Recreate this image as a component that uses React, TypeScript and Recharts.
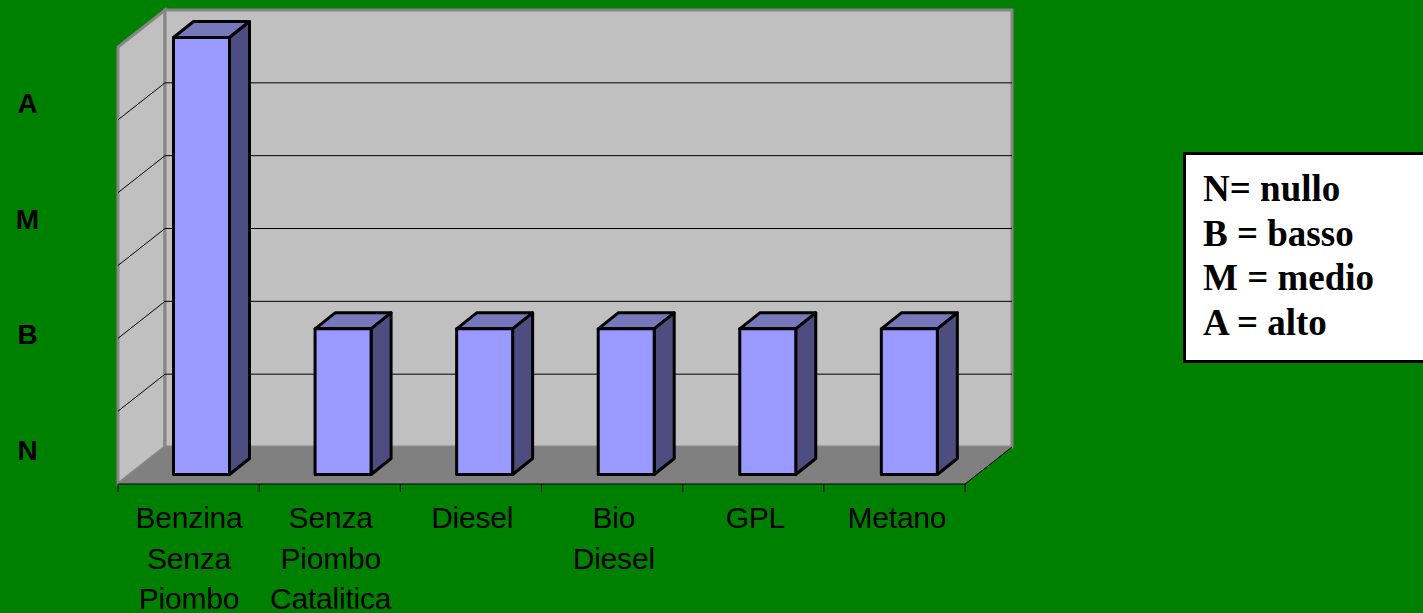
import { BarChart, Bar, XAxis, YAxis, CartesianGrid } from "recharts";

const categories = ["Benzina Senza Piombo", "Senza Piombo Catalitica", "Diesel", "Bio Diesel", "GPL", "Metano"];
const tickLines = [["Benzina", "Senza", "Piombo"], ["Senza", "Piombo", "Catalitica"], ["Diesel"], ["Bio", "Diesel"], ["GPL"], ["Metano"]];
const values = [6, 2, 2, 2, 2, 2];
const yTicks = [0, 1, 2, 3, 4, 5, 6];
const levelLabels = ["N", "B", "M", "A"];
const legendLines = ["N= nullo", "B = basso", "M = medio", "A = alto"];

const chartData = categories.map((name, i) => ({ name, value: values[i] }));

const W = 1423;
const H = 613;
const LEFT = 118;
const RIGHT = 965;
const TOP = 47;
const BOTTOM = 484;
const DX = 47;
const DY = -37;
const BAND = (RIGHT - LEFT) / categories.length;

function Walls() {
  return (
    <svg width={W} height={H} style={{ position: "absolute", left: 0, top: 0 }}>
      <polygon points={`${LEFT},${TOP} ${LEFT + DX},${TOP + DY} ${LEFT + DX},${BOTTOM + DY} ${LEFT},${BOTTOM}`} fill="#c0c0c0" stroke="#868686" strokeWidth={3} />
      <rect x={LEFT + DX} y={TOP + DY} width={RIGHT - LEFT} height={BOTTOM - TOP} fill="#c0c0c0" stroke="#868686" strokeWidth={3} />
      <polygon points={`${LEFT},${BOTTOM} ${LEFT + DX},${BOTTOM + DY} ${RIGHT + DX},${BOTTOM + DY} ${RIGHT},${BOTTOM}`} fill="#808080" />
      <line x1={RIGHT} y1={BOTTOM} x2={RIGHT + DX} y2={BOTTOM + DY} stroke="#000" />
      {levelLabels.map((t, i) => (
        <text key={t} x={27.5} y={459.5 - i * 115.5} textAnchor="middle" fontFamily="Liberation Sans" fontWeight="bold" fontSize={28} fill="#000">
          {t}
        </text>
      ))}
    </svg>
  );
}

// grid line runs over the side wall and then along the back wall
function WallLine(props: any) {
  const { x1, x2, y1, index } = props;
  if (index === 0 || y1 <= TOP + 1 || y1 >= BOTTOM - 1) return <g key={props.key ?? index} />;
  return <path key={props.key ?? index} d={`M${x1},${y1}L${x1 + DX},${y1 + DY}L${x2 + DX},${y1 + DY}`} fill="none" stroke="#000" strokeWidth={1} />;
}

function Bar3D(props: any) {
  const { width, height, index } = props;
  // the original bars sit a touch wider apart than the axis bands
  const x = props.x + 12.5 + index * 0.4;
  const y = props.y - 9.5;
  const ox = 20;
  const oy = -16;
  return (
    <g stroke="#000" strokeWidth={3} strokeLinejoin="round">
      <polygon points={`${x},${y} ${x + ox},${y + oy} ${x + width + ox},${y + oy} ${x + width},${y}`} fill="#7777bb" />
      <polygon points={`${x + width},${y} ${x + width + ox},${y + oy} ${x + width + ox},${y + height + oy} ${x + width},${y + height}`} fill="#4d4d80" />
      <rect x={x} y={y} width={width} height={height} fill="#9999ff" />
    </g>
  );
}

function CategoryTick(props: any) {
  const { x, y, index } = props;
  const lines = tickLines[index] ?? [];
  const left = x - BAND / 2;
  return (
    <g>
      <line x1={left} y1={BOTTOM} x2={left} y2={BOTTOM + 8} stroke="#000" />
      {index === categories.length - 1 && <line x1={left + BAND} y1={BOTTOM} x2={left + BAND} y2={BOTTOM + 8} stroke="#000" />}
      {lines.map((t: string, i: number) => (
        <text key={t} x={x + 0.5 + index * 0.4} y={y + 36 + i * 40.5} textAnchor="middle" fontFamily="Liberation Sans" fontSize={30} letterSpacing={-0.2} fill="#000">
          {t}
        </text>
      ))}
    </g>
  );
}

export default function App() {
  return (
    <div style={{ position: "absolute", left: 0, top: 0, width: W, height: H, overflow: "hidden", background: "#008000" }}>
      <Walls />
      <div style={{ position: "absolute", left: 0, top: 0 }}>
        <BarChart width={W} height={H} data={chartData} margin={{ left: LEFT, right: W - RIGHT, top: TOP, bottom: 0 }} barSize={56}>
          <CartesianGrid vertical={false} horizontal={WallLine as any} />
          <XAxis dataKey="name" interval={0} height={H - BOTTOM} tickLine={false} axisLine={{ stroke: "#000" }} tick={CategoryTick as any} />
          <YAxis hide domain={[0, 6]} ticks={yTicks} />
          <Bar dataKey="value" shape={Bar3D as any} isAnimationActive={false} />
        </BarChart>
      </div>
      <div
        style={{
          position: "absolute",
          left: 1183,
          top: 152,
          width: 260,
          height: 211,
          boxSizing: "border-box",
          border: "3px solid #000",
          background: "#fff",
          padding: "12px 0 0 17px",
          fontFamily: "Liberation Serif",
          fontWeight: "bold",
          fontSize: 37,
          lineHeight: "44.6px",
          color: "#000",
        }}
      >
        {legendLines.map((t) => (
          <div key={t}>{t}</div>
        ))}
      </div>
    </div>
  );
}
